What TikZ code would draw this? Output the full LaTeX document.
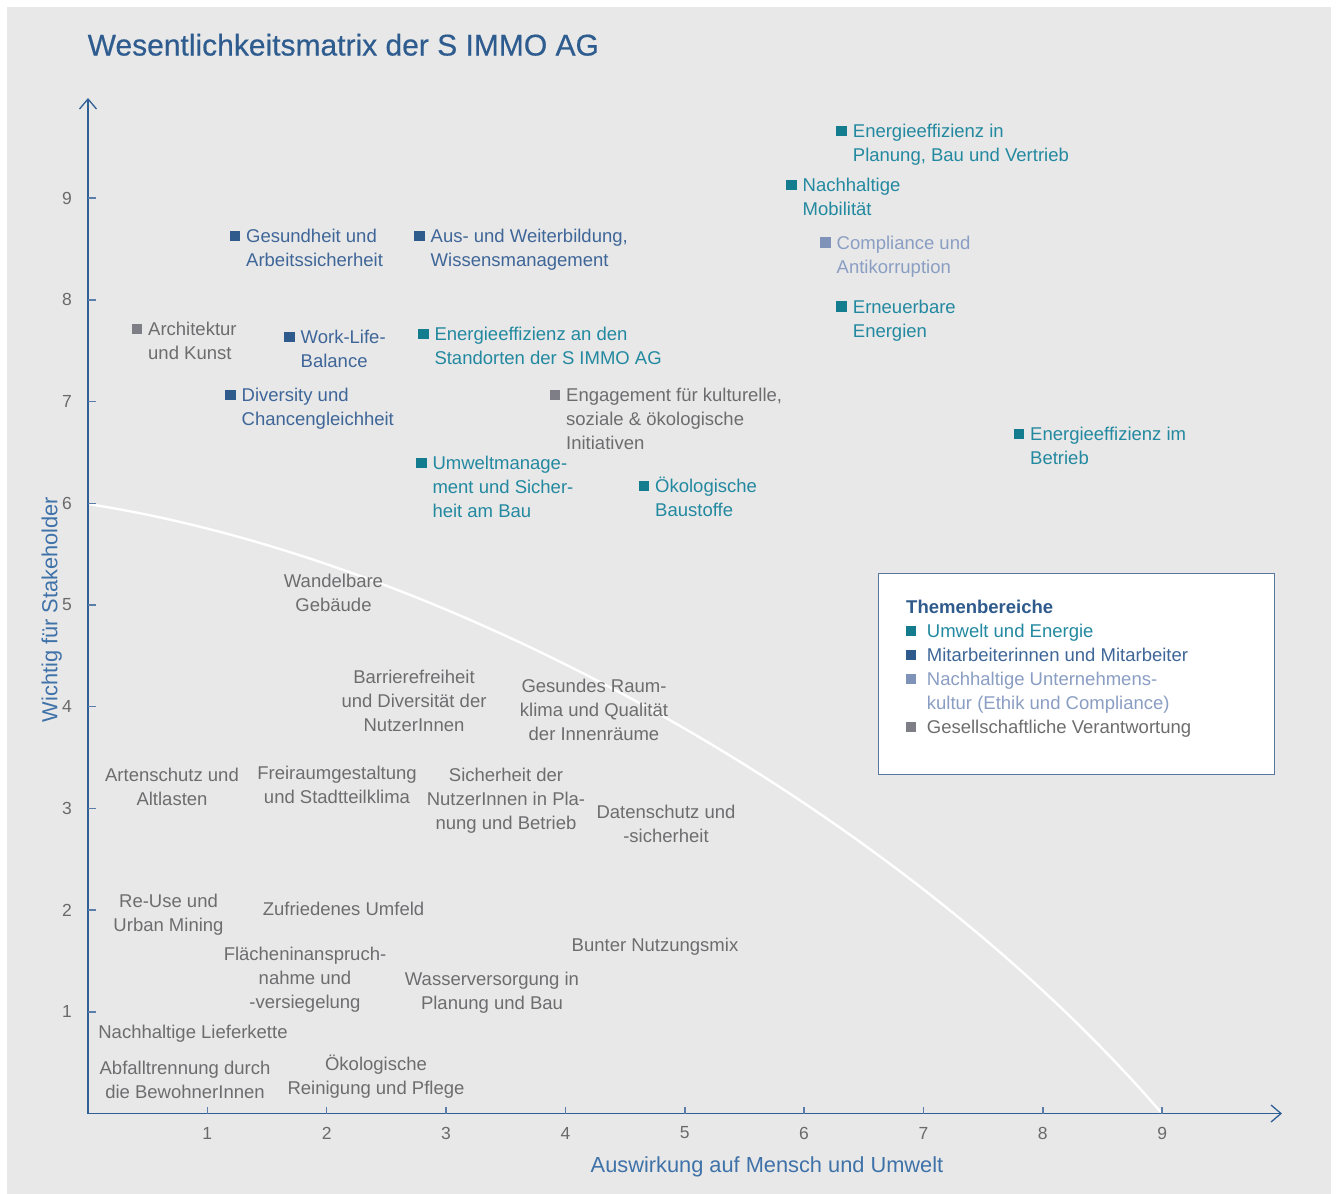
\documentclass[tikz,border=0pt]{standalone}
\usepackage{fontspec}
\setmainfont{Liberation Sans}
\newfontfamily\titlefont{Liberation Sans}[FakeBold=0.5]
\usetikzlibrary{arrows.meta}
\definecolor{bg}{HTML}{E8E8E8}
\definecolor{axisblue}{HTML}{2F5F94}
\definecolor{tickblue}{HTML}{5A7EA9}
\definecolor{titleblue}{HTML}{2E5C8F}
\definecolor{axlabel}{HTML}{3E72A8}
\definecolor{tealsq}{HTML}{137D8F}
\definecolor{tealtx}{HTML}{2389A0}
\definecolor{dbluesq}{HTML}{2E5A8C}
\definecolor{dbluetx}{HTML}{3F6698}
\definecolor{lbluesq}{HTML}{7F92B7}
\definecolor{lbluetx}{HTML}{8A9EC3}
\definecolor{graysq}{HTML}{7E7F86}
\definecolor{graytx}{HTML}{6D6D6F}
\definecolor{numgray}{HTML}{6A6A6A}
\definecolor{legframe}{HTML}{5877A0}
\newcommand\tstrut{\rule{0pt}{17pt}}
\newcommand\bodyfont{\fontsize{18.5}{24}\selectfont}
\tikzset{
  lbl/.style={inner sep=0pt, font=\bodyfont, align=left, anchor=north west},
  glbl/.style={inner sep=0pt, font=\bodyfont, align=center, anchor=north, text=graytx},
  mk/.style={fill=#1, draw=none, minimum size=10.8pt, inner sep=0pt, anchor=center},
  axisline/.style={draw=axisblue, line width=1.5pt},
  tickmark/.style={draw=tickblue, line width=1.5pt},
  num/.style={inner sep=0pt, font=\fontsize{17.5}{20}\selectfont, text=numgray},
  axl/.style={inner sep=0pt, font=\fontsize{21.8}{26}\selectfont, text=axlabel, anchor=base},
  legtx/.style={inner sep=0pt, font=\bodyfont, anchor=base west, align=left}
}
\newcommand\topic[6]{%
  \node[mk=#4] (#1m) at (#2-11,#3) {};
  \node[lbl, text=#5] (#1) at (#2,#3-10.5) {\tstrut #6};}
\begin{document}
\begin{tikzpicture}[x=1pt,y=-1pt]
\useasboundingbox (0,0) rectangle (1336,1194);
\fill[white] (0,0) rectangle (1336,1194);
\fill[bg] (7,7) rectangle (1331,1194);

% title
\node[anchor=base west, inner sep=0pt, font=\titlefont\fontsize{30}{36}\selectfont, text=titleblue] (title) at (87.5,55.5) {Wesentlichkeitsmatrix der S IMMO AG};

% curve
\coordinate (c0) at (88,504);
\coordinate (c1) at (450,560);
\coordinate (c2) at (900,810);
\coordinate (c3) at (1162,1113.5);
\draw[white, line width=2.4pt] (c0) .. controls (c1) and (c2) .. (c3);

% axes
\coordinate (O) at (88,1113.5);
\coordinate (XE) at (1282,1113.5);
\coordinate (YE) at (88,98);
\draw[axisline, -{Straight Barb[length=10pt,width=17pt,line width=1.3pt]}] (O) -- (XE);
\draw[axisline, -{Straight Barb[length=10pt,width=17pt,line width=1.3pt]}] (O) -- (YE);
\foreach \i in {1,...,9} {
  \draw[tickmark] (88+\i*119.35,1113.5) -- ++(0,-7);
  \node[num] (xl\i) at (88+\i*119.35,1133) {\i};
  \draw[tickmark] (88,1113.5-\i*101.7) -- ++(7.5,0);
  \node[num] (yl\i) at (67,1113.5-\i*101.7) {\i};
}
\node[axl] (xlab) at (767,1172) {Auswirkung auf Mensch und Umwelt};
\node[axl, rotate=90] (ylab) at (57.3,609.5) {Wichtig für Stakeholder};

% coloured topics
\topic{e1}{852.7}{131}{tealsq}{tealtx}{Energieeffizienz in\\Planung, Bau und Vertrieb}
\topic{e2}{802.5}{185}{tealsq}{tealtx}{Nachhaltige\\Mobilität}
\topic{c1t}{836.5}{242.5}{lbluesq}{lbluetx}{Compliance und\\Antikorruption}
\topic{e4}{852.7}{306.5}{tealsq}{tealtx}{Erneuerbare\\Energien}
\topic{m1}{246}{236}{dbluesq}{dbluetx}{Gesundheit und\\Arbeitssicherheit}
\topic{m2}{430.5}{236}{dbluesq}{dbluetx}{Aus- und Weiterbildung,\\Wissensmanagement}
\topic{g1}{148}{329}{graysq}{graytx}{Architektur\\und Kunst}
\topic{m3}{300.5}{337}{dbluesq}{dbluetx}{Work-Life-\\Balance}
\topic{e5}{434.3}{334}{tealsq}{tealtx}{Energieeffizienz an den\\Standorten der S IMMO AG}
\topic{m4}{241.5}{395}{dbluesq}{dbluetx}{Diversity und\\Chancengleichheit}
\topic{g2}{566}{395}{graysq}{graytx}{Engagement für kulturelle,\\soziale \& ökologische\\Initiativen}
\topic{e6}{432.3}{463}{tealsq}{tealtx}{Umweltmanage-\\ment und Sicher-\\heit am Bau}
\topic{e7}{655}{486}{tealsq}{tealtx}{Ökologische\\Baustoffe}
\topic{e8}{1030}{434}{tealsq}{tealtx}{Energieeffizienz im\\Betrieb}

% grey topics below the curve
\node[glbl] (w1) at (333.5,570) {\tstrut Wandelbare\\Gebäude};
\node[glbl] (w2) at (414,666) {\tstrut Barrierefreiheit\\und Diversität der\\NutzerInnen};
\node[glbl] (w3) at (594,675) {\tstrut Gesundes Raum-\\klima und Qualität\\der Innenräume};
\node[glbl] (w4) at (172,764.5) {\tstrut Artenschutz und\\Altlasten};
\node[glbl] (w5) at (337,762.5) {\tstrut Freiraumgestaltung\\und Stadtteilklima};
\node[glbl] (w6) at (506,764.5) {\tstrut Sicherheit der\\NutzerInnen in Pla-\\nung und Betrieb};
\node[glbl] (w7) at (666,801) {\tstrut Datenschutz und\\-sicherheit};
\node[glbl] (w8) at (168.5,890.5) {\tstrut Re-Use und\\Urban Mining};
\node[glbl] (w9) at (343.5,898.5) {\tstrut Zufriedenes Umfeld};
\node[glbl] (w10) at (655,934.5) {\tstrut Bunter Nutzungsmix};
\node[glbl] (w11) at (305,943) {\tstrut Flächeninanspruch-\\nahme und\\-versiegelung};
\node[glbl] (w12) at (492,968.5) {\tstrut Wasserversorgung in\\Planung und Bau};
\node[glbl] (w13) at (193,1021) {\tstrut Nachhaltige Lieferkette};
\node[glbl] (w14) at (185,1057.5) {\tstrut Abfalltrennung durch\\die BewohnerInnen};
\node[glbl] (w15) at (376,1053.5) {\tstrut Ökologische\\Reinigung und Pflege};

% legend
\node[draw=legframe, line width=1pt, fill=white, minimum width=396pt, minimum height=201pt, anchor=north west, inner sep=0pt] (legend) at (877.5,572.5) {};
\node[legtx, font=\bfseries\bodyfont, text=dbluesq] (lt) at (906,613) {Themenbereiche};
\node[mk=tealsq] (l1m) at (911,631) {};
\node[legtx, text=tealtx] (l1) at (926.7,637.2) {Umwelt und Energie};
\node[mk=dbluesq] (l2m) at (911,655) {};
\node[legtx, text=dbluetx] (l2) at (926.7,661.2) {Mitarbeiterinnen und Mitarbeiter};
\node[mk=lbluesq] (l3m) at (911,679) {};
\node[lbl, text=lbluetx] (l3) at (926.7,668.2) {\tstrut Nachhaltige Unternehmens-\\kultur (Ethik und Compliance)};
\node[mk=graysq] (l4m) at (911,727) {};
\node[legtx, text=graytx] (l4) at (926.7,733.2) {Gesellschaftliche Verantwortung};
\end{tikzpicture}
\end{document}
